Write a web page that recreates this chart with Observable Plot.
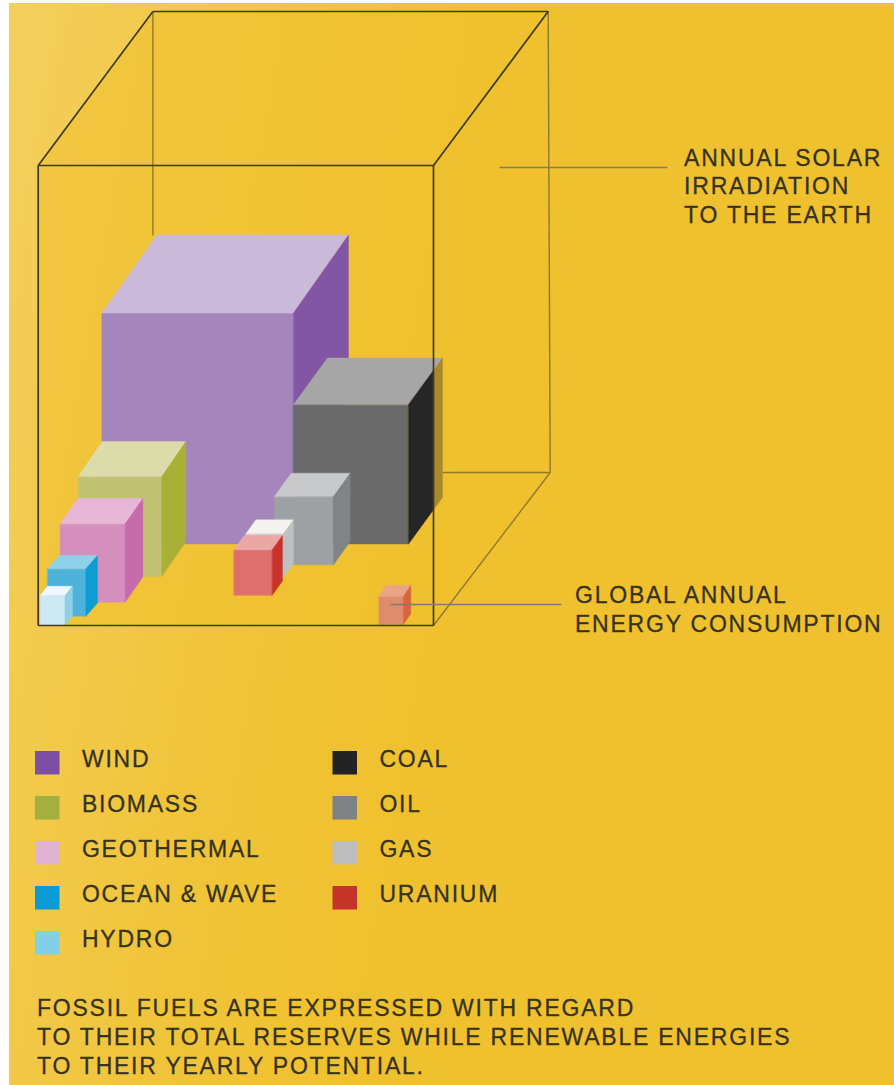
<!DOCTYPE html>
<html>
<head>
<meta charset="utf-8">
<script src="https://cdn.jsdelivr.net/npm/d3@7"></script>
<script src="https://cdn.jsdelivr.net/npm/@observablehq/plot@0.6"></script>
<style>
html,body{margin:0;padding:0;background:#fff}
#chart svg{display:block}
#chart text{letter-spacing:1.77px}
</style>
</head>
<body>
<div id="chart"></div>
<script>
// Cubes in chart units, drawn back to front
const cubeNames  = ["wind","coal","biomass","geothermal","ocean","hydro","oil","gas","uranium","consumption"];
const cubeLeft   = [101.5,293,  77.7, 59.7, 47,   39.7, 274,  245.4,233.4,378.4];
const cubeRight  = [293,  408,  161.4,124.7,85.4, 64.7, 333,  283,  271.7,403];
const cubeTop    = [312.5,404,  476,  523.3,568.3,595,  496,  533.3,549.3,595.7];
const cubeBottom = [543.5,543.5,576,  601.7,615.7,624.5,564.3,577,  594.7,624];
const cubeDepthX = [55,   34,   24,   17.7, 11.6, 7.3,  16.7, 10,   10.3, 7.3];
const cubeDepthY = [78,   46.5, 35,   25.3, 13.3, 9.3,  23.3, 14,   14.3, 10.7];
const frontColors = ["#a485bc","#6a6a6a","#c1c272","#d58fbd","#4eb3da","#cde9f4","#9da1a3","#c4c6c6","#df6f6c","#df8c6c"];
const topColors   = ["#cbb9da","#a6a6a6","#dcdcaa","#e8b7d8","#8ed2ea","#eef8fc","#c7c9ca","#f4f3ef","#eba7a3","#eba487"];
const sideColors  = ["#8256a4","#262626","#a8b035","#c76aab","#0e9dd3","#8fd0e8","#7f8487","#bfc1c0","#c8322b","#d9663a"];
const spillColor  = "#a88a2c";

// The big reference cube
const frameLeft = 37.7, frameRight = 433, frameTop = 165, frameBottom = 625;
const frameDepthX = 114.7, frameDepthY = 154;

// Legend
const legendNames  = ["WIND","BIOMASS","GEOTHERMAL","OCEAN & WAVE","HYDRO","COAL","OIL","GAS","URANIUM"];
const legendColors = ["#7c4fa3","#a3b03f","#e0b3d3","#0a9bd3","#84cfe8","#232323","#7f8285","#bdbdbd","#c4342b"];
const legendColumn = [0,0,0,0,0,1,1,1,1];
const legendRow    = [0,1,2,3,4,0,1,2,3];

// Annotations
const solarLabel = ["ANNUAL SOLAR","IRRADIATION","TO THE EARTH"];
const consumptionLabel = ["GLOBAL ANNUAL","ENERGY CONSUMPTION"];
const noteLines = ["FOSSIL FUELS ARE EXPRESSED WITH REGARD","TO THEIR TOTAL RESERVES WHILE RENEWABLE ENERGIES","TO THEIR YEARLY POTENTIAL."];

const ink = "#35321f";

// Face polygons for the cubes
const faces = [];
const addFace = (id, color, pts) => pts.forEach(([x,y]) => faces.push({id, color, x, y}));
cubeNames.forEach((n,i) => {
  const l=cubeLeft[i], r=cubeRight[i], t=cubeTop[i], b=cubeBottom[i], dx=cubeDepthX[i], dy=cubeDepthY[i];
  addFace(n+"-front", frontColors[i], [[l,t],[r,t],[r,b],[l,b]]);
  addFace(n+"-top", topColors[i], [[l,t],[l+dx,t-dy],[r+dx,t-dy],[r,t]]);
  if (r+dx > frameRight) {
    // the part of a side face that sticks out of the frame is seen through it
    const k=(frameRight-r)/dx;
    addFace(n+"-spill", spillColor, [[frameRight,t-k*dy],[r+dx,t-dy],[r+dx,b-dy],[frameRight,b-k*dy]]);
    addFace(n+"-side", sideColors[i], [[r,t],[frameRight,t-k*dy],[frameRight,b-k*dy],[r,b]]);
  } else {
    addFace(n+"-side", sideColors[i], [[r,t],[r+dx,t-dy],[r+dx,b-dy],[r,b]]);
  }
});

const L=frameLeft,R=frameRight,T=frameTop,B=frameBottom,DX=frameDepthX,DY=frameDepthY;
const seg = (a,b) => ({x1:a[0],y1:a[1],x2:b[0],y2:b[1]});
const frameTint = [[L,T],[L+DX,T-DY],[R+DX,T-DY],[R+DX+2,B-DY+1],[R,B],[L,B]].map(([x,y])=>({x,y}));
const backEdges = [
  seg([L+DX,T-DY],[L+DX,T-DY+224]),
  seg([R+DX,T-DY],[R+DX+2,B-DY+1]),
  seg([R+9,B-DY+1],[R+DX+2,B-DY+1]),
  seg([R,B],[R+DX+2,B-DY+1])
];
const frontEdges = [
  seg([L,T],[R,T]),seg([R,T],[R,B]),seg([R,B],[L,B]),seg([L,B],[L,T]),
  seg([L,T],[L+DX,T-DY]),seg([L+DX,T-DY],[R+DX,T-DY]),seg([R,T],[R+DX,T-DY])
];
const leaders = [seg([499,167],[667,167]),seg([390,604],[561,604])];

const legend = legendNames.map((name,i)=>({
  name,color:legendColors[i],
  x:35+legendColumn[i]*297.5,
  y:751+legendRow[i]*45
}));
const textOpts = {textAnchor:"start",lineAnchor:"middle",fontSize:23,fontFamily:"Liberation Sans",fill:ink,stroke:ink,strokeWidth:0.3};

const chart = Plot.plot({
  width:894,height:1085,margin:0,
  x:{domain:[0,894],range:[0,894],axis:null},
  y:{domain:[0,1085],range:[0,1085],axis:null},
  style:{background:"linear-gradient(100deg,#f3cf5e 0%,#f2ca4c 14%,#f0c438 32%,#f0c12e 50%) 9px 3px/885px 1082px no-repeat, #fff"},
  marks:[
    Plot.line(frameTint,{x:"x",y:"y",curve:"linear-closed",fill:"#f0c12e",fillOpacity:0.55,stroke:null}),
    Plot.link(backEdges,{x1:"x1",y1:"y1",x2:"x2",y2:"y2",stroke:"#8c7a2c",strokeWidth:1.4}),
    Plot.line(faces,{x:"x",y:"y",z:"id",fill:"color",stroke:"color",strokeWidth:0.4,curve:"linear-closed"}),
    Plot.link(frontEdges,{x1:"x1",y1:"y1",x2:"x2",y2:"y2",stroke:"#3f3a26",strokeWidth:1.7}),
    Plot.link(leaders,{x1:"x1",y1:"y1",x2:"x2",y2:"y2",stroke:"#7f7d6a",strokeWidth:1.4}),
    Plot.rect(legend,{x1:"x",x2:d=>d.x+24.5,y1:"y",y2:d=>d.y+23.5,fill:"color"}),
    Plot.text(legend,{x:d=>d.x+46.4,y:d=>d.y+8.5,text:"name",...textOpts}),
    Plot.text(solarLabel,{x:683.6,y:(d,i)=>158+i*28.6,text:d=>d,...textOpts}),
    Plot.text(consumptionLabel,{x:574.5,y:(d,i)=>595.5+i*29,text:d=>d,...textOpts}),
    Plot.text(noteLines,{x:36.5,y:(d,i)=>1008.5+i*28.6,text:d=>d,...textOpts})
  ]
});
document.getElementById("chart").appendChild(chart);
</script>
</body>
</html>
